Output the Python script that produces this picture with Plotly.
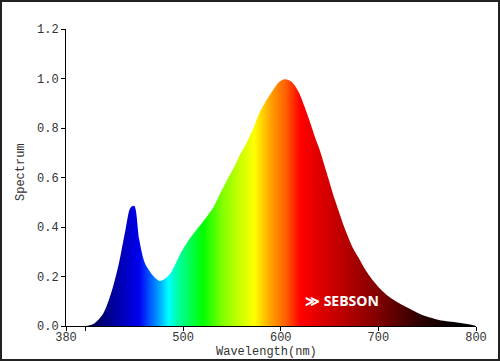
import plotly.graph_objects as go

# Spectrum data (wavelength nm, relative value)
wavelength = [380, 400, 408, 418, 426, 434, 441, 446, 450, 455, 461, 470, 476, 481, 487,
              492, 497, 502, 507, 514, 521, 531, 538, 545, 552, 558, 565, 572, 578, 585,
              592, 598, 604, 610, 615, 619, 624, 629, 634, 640, 645, 650, 655, 660, 665,
              670, 675, 681, 687, 694, 702, 711, 720, 728, 737, 745, 754, 762, 772, 783, 795, 800]
spectrum = [0.0, 0.0, 0.008, 0.05, 0.13, 0.25, 0.39, 0.478, 0.485, 0.35, 0.253, 0.20, 0.182, 0.19, 0.213,
            0.25, 0.29, 0.325, 0.355, 0.39, 0.425, 0.48, 0.536, 0.59, 0.64, 0.69, 0.74, 0.80, 0.86, 0.91,
            0.953, 0.985, 0.997, 0.99, 0.968, 0.94, 0.89, 0.835, 0.775, 0.71, 0.645, 0.58, 0.515, 0.457, 0.40,
            0.35, 0.307, 0.267, 0.225, 0.186, 0.15, 0.118, 0.095, 0.078, 0.06, 0.044, 0.033, 0.024, 0.018, 0.013, 0.005, 0.0]

# colour of light by wavelength
color_wl = [380, 400, 420, 440, 455, 465, 475, 485, 495, 505, 520, 540, 560, 573, 590, 605, 620, 660, 700, 740, 780, 800]
color_hex = ["#000030", "#000040", "#000080", "#0000c0", "#0000f0", "#0050ff", "#00a0ff", "#00ffff",
             "#00ffa0", "#00ff60", "#00ff00", "#80ff00", "#d0ff00", "#ffff00", "#ffa000", "#ff6000",
             "#ff0000", "#c00000", "#800000", "#300000", "#000000", "#000000"]

x_ticks = [380, 400, 500, 600, 700, 800]
x_tick_text = ["380", "", "500", "600", "700", "800"]
y_ticks = [0.0, 0.2, 0.4, 0.6, 0.8, 1.0, 1.2]
y_tick_text = ["0.0", "0.2", "0.4", "0.6", "0.8", "1.0", "1.2"]

lo, hi = 380, 800
colorscale = [[(w - lo) / (hi - lo), c] for w, c in zip(color_wl, color_hex)]

fig = go.Figure()
fig.add_trace(go.Scatter(
    x=wavelength, y=spectrum, mode="lines",
    line=dict(width=0.5, color="rgba(0,0,0,0)", shape="spline", smoothing=0.8),
    fill="tozeroy",
    fillgradient=dict(type="horizontal", colorscale=colorscale, start=lo, stop=hi),
    hoverinfo="skip", showlegend=False,
))

font_mono = "Liberation Mono, Courier New, monospace"
axis_common = dict(showline=True, linecolor="black", linewidth=1, ticks="outside",
                   ticklen=4, tickcolor="black", showgrid=False, zeroline=False,
                   automargin=False,
                   tickfont=dict(family=font_mono, size=12, color="#333"))

L, R, T, B = 66, 24, 29, 35
PW, PH = 500 - L - R, 361 - T - B

fig.update_layout(
    width=500, height=361, autosize=False,
    margin=dict(l=L, r=R, t=T, b=B, autoexpand=False),
    paper_bgcolor="white", plot_bgcolor="white",
    xaxis=dict(range=[lo, hi], tickvals=x_ticks, ticktext=x_tick_text,
               ticklabelstandoff=-4, **axis_common),
    yaxis=dict(range=[0, 1.2], tickvals=y_ticks, ticktext=y_tick_text, **axis_common),
    shapes=[dict(type="rect", xref="paper", yref="paper",
                 x0=-L / PW, x1=1 + R / PW, y0=-B / PH, y1=1 + T / PH,
                 line=dict(color="#222", width=4), fillcolor="rgba(0,0,0,0)", layer="above")],
    annotations=[
        dict(text="<b>≫ SEBSON</b>", x=663, y=0.102, xref="x", yref="y",
             showarrow=False, font=dict(family="Open Sans, sans-serif", size=14, color="white")),
        dict(text="Wavelength(nm)", x=(266.5 - L) / PW, y=-(352 - (361 - B)) / PH,
             xref="paper", yref="paper", showarrow=False,
             xanchor="center", yanchor="middle",
             font=dict(family=font_mono, size=12, color="#333")),
        dict(text="Spectrum", x=(21 - L) / PW, y=((361 - B) - 172) / PH,
             xref="paper", yref="paper", showarrow=False, textangle=-90,
             xanchor="center", yanchor="middle",
             font=dict(family=font_mono, size=12, color="#333")),
    ],
)

fig.write_html("out.html")
